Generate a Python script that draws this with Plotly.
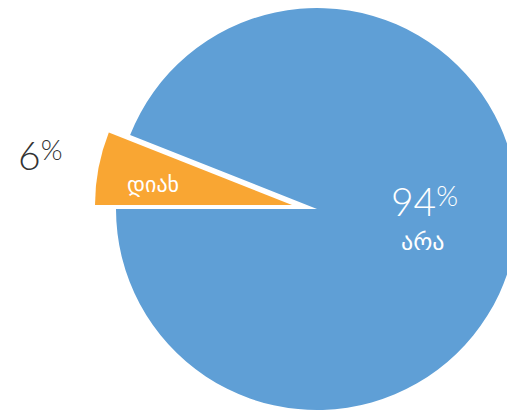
import plotly.graph_objects as go

# survey answers: yes / no
labels = ["დიახ", "არა"]
values = [6, 94]
colors = ["#F9A633", "#5F9FD6"]

total = sum(values)
pct = [round(100 * v / total) for v in values]

clear = "rgba(0,0,0,0)"
geo_font = "DejaVu Sans, sans-serif"


def pct_label(p):
    # big light digits with a smaller raised percent sign
    return (
        f"<span style='font-family:Lato;font-size:39px;font-weight:300'>{p}</span>"
        f"<sup><span style='font-family:Lato;font-size:28px;font-weight:300'>%</span></sup>"
    )


fig = go.Figure()

# main pie: only the "no" slice is painted
fig.add_trace(
    go.Pie(
        labels=labels,
        values=values,
        sort=False,
        direction="clockwise",
        rotation=270,
        marker=dict(colors=[clear, colors[1]], line=dict(width=0)),
        textinfo="none",
        hoverinfo="skip",
        domain=dict(x=[0.2097, 0.9903], y=[0.0266, 1.0]),
        showlegend=False,
    )
)

# exploded "yes" slice, drawn as its own pie shifted out from the centre
fig.add_trace(
    go.Pie(
        labels=labels,
        values=values,
        sort=False,
        direction="clockwise",
        rotation=270,
        marker=dict(colors=[colors[0], clear], line=dict(width=0)),
        textinfo="none",
        hoverinfo="skip",
        domain=dict(x=[0.1689, 0.9340], y=[0.0460, 1.0]),
        showlegend=False,
    )
)

# slice labels: (text, x, y, colour, size)
label_specs = [
    (labels[0], 0.2816, 0.5738, "white", 22),
    (pct_label(pct[0]), 0.0621, 0.6441, "#333333", 23),
    (pct_label(pct[1]), 0.8097, 0.5327, "white", 23),
    (labels[1], 0.8058, 0.4334, "white", 24),
]
for text, x, y, color, size in label_specs:
    fig.add_annotation(
        text=text,
        x=x,
        y=y,
        xref="paper",
        yref="paper",
        xanchor="center",
        yanchor="middle",
        showarrow=False,
        font=dict(color=color, size=size, family=geo_font),
    )

fig.update_layout(
    width=515,
    height=413,
    margin=dict(l=0, r=0, t=0, b=0),
    paper_bgcolor="white",
    plot_bgcolor="white",
)

fig.write_html("out.html")
